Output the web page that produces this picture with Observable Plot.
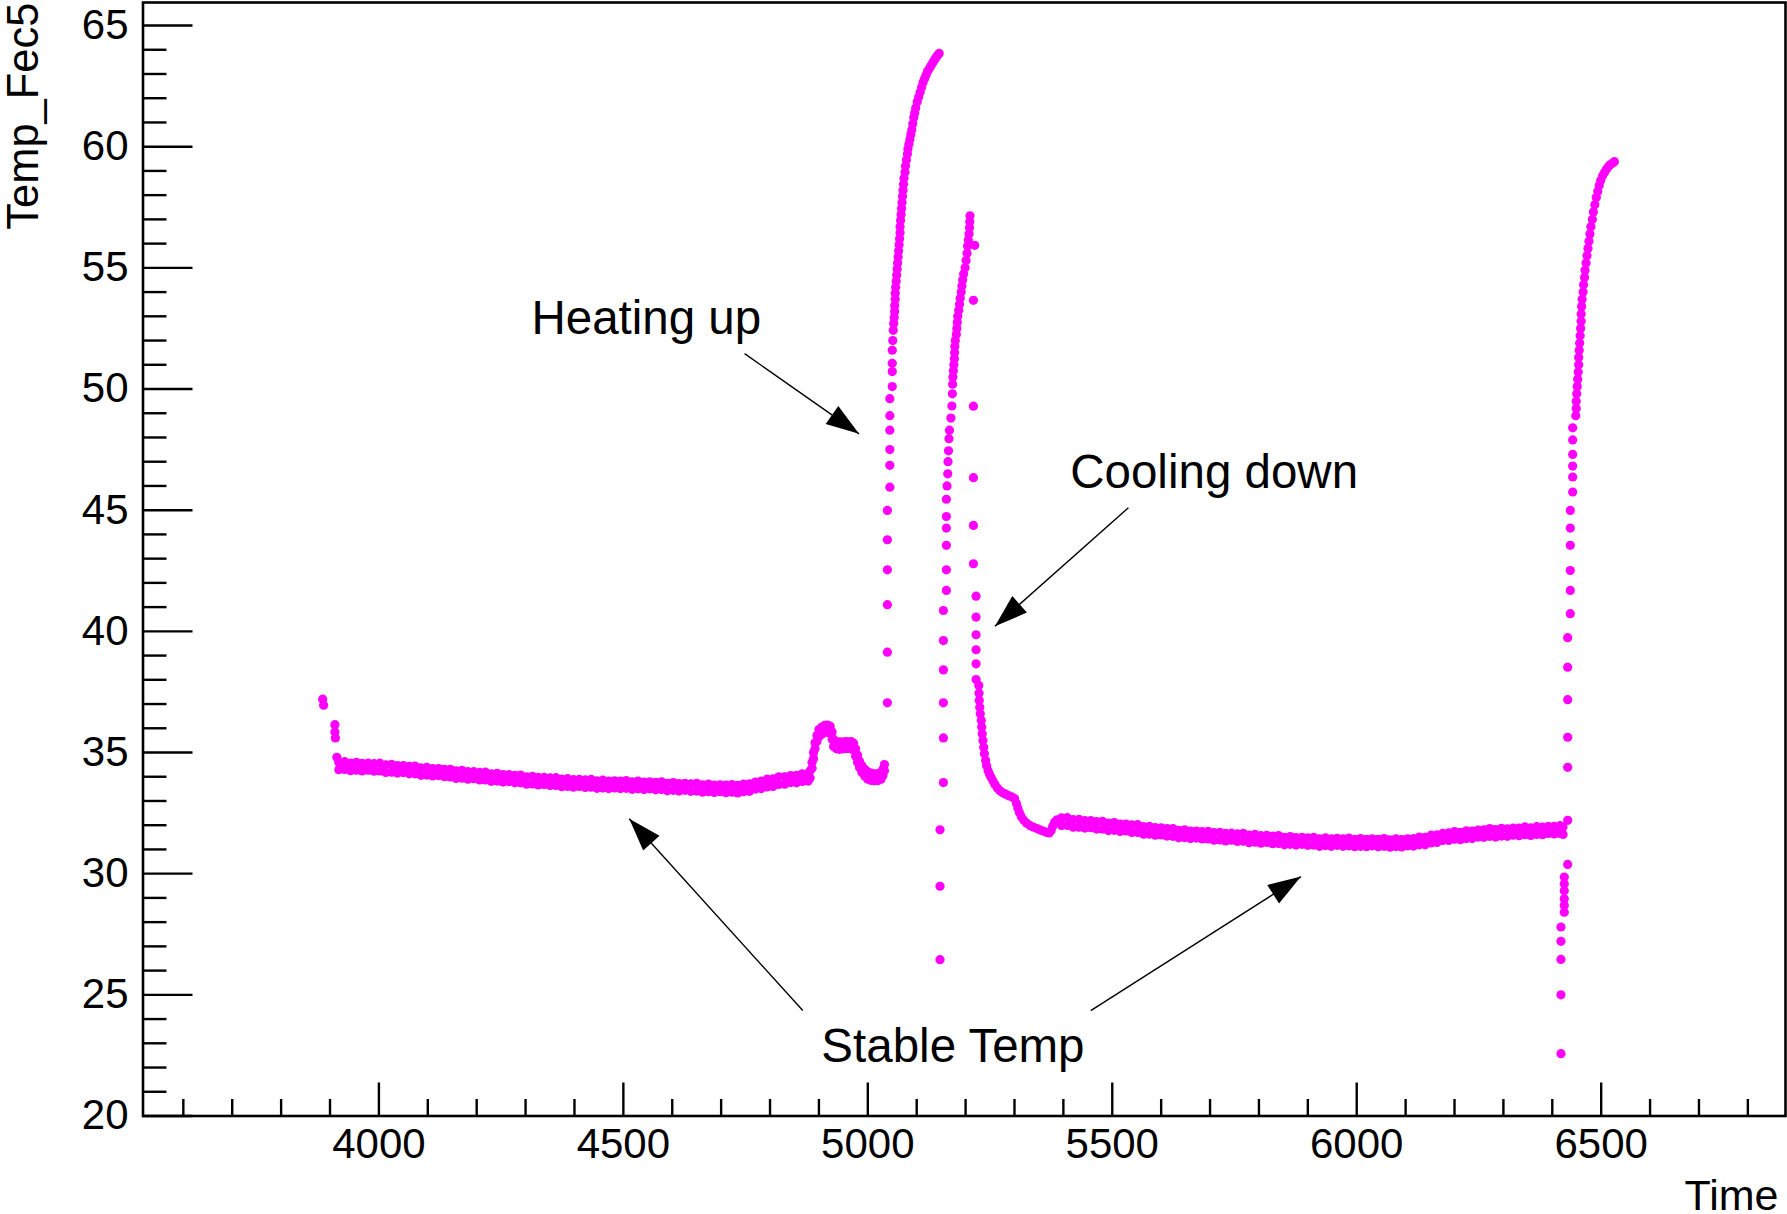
<!DOCTYPE html>
<html>
<head>
<meta charset="utf-8">
<script src="https://cdn.jsdelivr.net/npm/d3@7"></script>
<script src="https://cdn.jsdelivr.net/npm/@observablehq/plot@0.6"></script>
<style>
  html, body { margin: 0; padding: 0; background: #ffffff; }
  #chart svg { display: block; }
</style>
</head>
<body>
<div id="chart"></div>
<script>
// ---------------- DATA ----------------
// Time, Temp_Fec5 pairs  [t, v]
const startTransient = [[3885, 37.2], [3887, 36.95], [3910, 36.15], [3910, 35.85], [3911, 35.6], [3914, 34.8]];

// dense stable band before heating: [t, lower edge, upper edge]
const stableBefore = [
  [3918,34.29,34.60],[3930,34.30,34.62],[3942,34.25,34.56],[3954,34.27,34.59],[3966,34.24,34.55],[3978,34.27,34.56],
  [3990,34.23,34.54],[4002,34.24,34.56],[4014,34.18,34.49],[4026,34.19,34.51],[4038,34.15,34.46],[4050,34.17,34.46],
  [4062,34.12,34.43],[4074,34.12,34.44],[4086,34.06,34.37],[4098,34.07,34.39],[4110,34.03,34.34],[4122,34.05,34.34],
  [4134,34.00,34.31],[4146,33.99,34.31],[4158,33.93,34.24],[4170,33.94,34.26],[4182,33.90,34.21],[4194,33.92,34.21],
  [4206,33.87,34.18],[4218,33.87,34.19],[4230,33.81,34.12],[4242,33.82,34.14],[4254,33.78,34.09],[4266,33.80,34.09],
  [4278,33.75,34.06],[4290,33.75,34.07],[4302,33.69,34.00],[4314,33.70,34.02],[4326,33.66,33.97],[4338,33.68,33.97],
  [4350,33.64,33.95],[4362,33.64,33.96],[4374,33.59,33.90],[4386,33.60,33.92],[4398,33.57,33.88],[4410,33.60,33.89],
  [4422,33.56,33.87],[4434,33.57,33.89],[4446,33.52,33.83],[4458,33.54,33.86],[4470,33.51,33.82],[4482,33.54,33.83],
  [4494,33.51,33.82],[4506,33.52,33.84],[4518,33.48,33.79],[4530,33.50,33.82],[4542,33.47,33.78],[4554,33.50,33.79],
  [4566,33.46,33.77],[4578,33.47,33.79],[4590,33.42,33.73],[4602,33.44,33.76],[4614,33.41,33.72],[4626,33.44,33.73],
  [4638,33.40,33.71],[4650,33.41,33.73],[4662,33.36,33.67],[4674,33.38,33.70],[4686,33.35,33.66],[4698,33.38,33.67],
  [4710,33.34,33.65],[4722,33.36,33.68],[4734,33.33,33.64],[4746,33.38,33.70],[4758,33.40,33.71],[4770,33.49,33.78],
  [4782,33.51,33.82],[4794,33.58,33.90],[4806,33.60,33.91],[4818,33.68,34.00],[4830,33.69,34.00],[4842,33.76,34.05],
  [4854,33.75,34.06],[4866,33.80,34.12],[4878,33.82,34.13]
];

// small warm bump before the first heating: [t, lower, upper]
const warmBump = [
  [4882,33.95,34.25],[4886,34.35,34.60],[4889,34.75,35.00],[4892,35.15,35.40],[4896,35.45,35.70],[4900,35.65,35.95],
  [4906,35.75,36.05],[4912,35.83,36.12],[4918,35.85,36.13],[4923,35.80,36.08],[4927,35.55,35.85],[4930,35.25,35.55],
  [4936,35.15,35.42],[4942,35.13,35.44],[4948,35.15,35.43],[4954,35.16,35.45],[4960,35.17,35.44],[4966,35.15,35.45],
  [4971,35.10,35.38],[4975,34.85,35.15],[4979,34.60,34.90],[4983,34.38,34.65],[4988,34.18,34.45],[4994,34.02,34.30],
  [5000,33.90,34.20],[5007,33.85,34.15],[5014,33.83,34.12],[5021,33.84,34.13],[5027,33.90,34.18],[5031,34.05,34.30],
  [5034,34.25,34.50]
];

// first heating
const heatingRise1 = [
  [5040,37.05],[5040,39.14],[5040,41.10],[5040,42.54],[5040,43.78],[5040,44.99],[5045,45.95],[5045,46.85],[5045,47.50],
  [5045,48.30],[5045,48.90],[5045,49.60],[5050,50.10],[5050,50.72],[5050,51.06],[5050,51.60],[5051,52.00],[5052,52.42],
  [5053,52.70],[5054,52.95],[5055,53.20],[5055,53.45],[5056,53.70],[5056,53.95],[5057,54.20],[5058,54.45],[5059,54.70],
  [5060,54.95],[5061,55.20],[5062,55.45],[5063,55.70],[5064,55.95],[5065,56.20],[5066,56.45],[5066,56.70],[5067,56.95],
  [5068,57.20],[5069,57.45],[5070,57.70],[5071,57.95],[5072,58.20],[5073,58.45],[5074,58.70],[5076,58.95],[5077,59.20],
  [5079,59.45],[5081,59.70],[5082,59.90],[5084,60.10],[5086,60.30],[5088,60.50],[5090,60.70],[5092,60.95],[5094,61.20],
  [5096,61.40],[5098,61.60],[5101,61.85],[5104,62.05],[5107,62.25],[5110,62.45],[5113,62.65],[5116,62.80],[5119,62.95],
  [5122,63.10],[5125,63.20],[5128,63.30],[5131,63.40],[5134,63.50],[5137,63.60],[5140,63.70],[5143,63.78],[5146,63.85]
];

// second heating
const heatingRise2 = [
  [5147.7,26.45],[5147.7,29.48],[5147.7,31.81],[5154.6,33.76],[5154.6,35.60],[5154.6,37.05],[5154.6,38.41],[5154.6,39.62],
  [5154.6,40.86],[5160.7,41.69],[5160.7,42.54],[5160.7,43.55],[5160.7,44.26],[5160.7,44.74],[5160.7,45.45],[5162,46.00],
  [5163.5,46.50],[5164,47.00],[5165,47.45],[5166,47.95],[5167,48.30],[5170,48.80],[5172,49.30],[5173,49.80],[5173.5,50.20],
  [5174,50.50],[5175,50.75],[5176,51.00],[5177,51.25],[5177.5,51.50],[5178,51.75],[5179,52.00],[5181,52.25],[5182,52.50],
  [5183,52.75],[5184,53.00],[5186,53.25],[5187.5,53.50],[5189,53.75],[5191,54.00],[5192.5,54.25],[5194,54.50],[5196,54.75],
  [5199,55.00],[5201,55.30],[5203,55.60],[5204,55.90],[5205.5,56.15],[5207,56.40],[5208,56.65],[5208.5,56.90],[5209,57.15]
];

// cooling down after the second heating
const coolingFall = [
  [5218.7,55.93],[5216,53.66],[5216,49.29],[5216,46.34],[5216,44.37],[5216,42.79],[5221.4,41.45],[5221.4,40.59],
  [5221.4,39.86],[5221.4,39.24],[5221.4,38.66],[5221.4,38.01],[5227,37.77],[5227.5,37.45],[5228,37.15],[5229,36.87],
  [5230,36.60],[5232,36.32],[5233,36.05],[5234,35.77],[5235.5,35.50],[5237,35.22],[5238.5,34.95],[5241,34.67],
  [5243,34.45],[5246,34.25],[5249,34.10],[5252,33.98],[5256,33.82],[5260,33.68],[5265,33.54],[5270,33.42],[5276,33.34],
  [5282,33.28],[5288,33.22],[5294,33.17],[5300,33.10],[5304,32.90],[5307,32.70],[5310,32.52],[5314,32.35],[5319,32.20],
  [5325,32.08],[5332,31.98],[5339,31.92],[5346,31.86],[5353,31.80],[5360,31.75],[5366,31.70],[5371,31.68],[5375,31.78],
  [5378,31.95],[5382,32.12],[5387,32.22],[5392,32.20]
];

// dense stable band after cooling: [t, lower edge, upper edge]
const stableAfter = [
  [5396,31.99,32.30],[5408,31.99,32.31],[5420,31.92,32.23],[5432,31.92,32.24],[5444,31.88,32.19],[5456,31.90,32.19],
  [5468,31.84,32.15],[5480,31.84,32.16],[5492,31.78,32.09],[5504,31.79,32.11],[5516,31.74,32.05],[5528,31.76,32.05],
  [5540,31.70,32.01],[5552,31.70,32.02],[5564,31.63,31.94],[5576,31.63,31.95],[5588,31.59,31.90],[5600,31.60,31.89],
  [5612,31.55,31.86],[5624,31.54,31.86],[5636,31.48,31.79],[5648,31.49,31.81],[5660,31.45,31.76],[5672,31.47,31.76],
  [5684,31.43,31.74],[5696,31.43,31.75],[5708,31.38,31.69],[5720,31.39,31.71],[5732,31.35,31.66],[5744,31.38,31.67],
  [5756,31.33,31.64],[5768,31.34,31.66],[5780,31.28,31.59],[5792,31.30,31.62],[5804,31.26,31.57],[5816,31.29,31.58],
  [5828,31.24,31.55],[5840,31.25,31.57],[5852,31.19,31.50],[5864,31.21,31.53],[5876,31.18,31.49],[5888,31.21,31.50],
  [5900,31.17,31.48],[5912,31.18,31.50],[5924,31.13,31.44],[5936,31.16,31.48],[5948,31.13,31.44],[5960,31.17,31.46],
  [5972,31.13,31.44],[5984,31.15,31.47],[5996,31.11,31.42],[6008,31.13,31.45],[6020,31.11,31.42],[6032,31.15,31.44],
  [6044,31.11,31.42],[6056,31.13,31.45],[6068,31.09,31.40],[6080,31.12,31.44],[6092,31.10,31.41],[6104,31.15,31.44],
  [6116,31.14,31.45],[6128,31.19,31.51],[6140,31.19,31.50],[6152,31.27,31.59],[6164,31.29,31.60],[6176,31.37,31.66],
  [6188,31.37,31.68],[6200,31.42,31.74],[6212,31.40,31.71],[6224,31.45,31.77],[6236,31.45,31.76],[6248,31.51,31.80],
  [6260,31.50,31.81],[6272,31.54,31.86],[6284,31.51,31.82],[6296,31.55,31.87],[6308,31.54,31.85],[6320,31.59,31.88],
  [6332,31.57,31.88],[6344,31.61,31.93],[6356,31.58,31.89],[6368,31.62,31.94],[6380,31.61,31.92],[6392,31.66,31.95],
  [6404,31.64,31.95],[6416,31.66,31.98],[6422,31.62,31.93]
];

// third heating
const heatingRise3 = [
  [6417.7,22.57],[6417.7,25.00],[6417.7,26.46],[6417.7,27.21],[6417.7,27.80],[6424.5,28.41],[6424.5,28.69],[6424.5,28.96],
  [6424.5,29.30],[6424.5,29.58],[6424.5,29.86],[6431.5,30.38],[6431.5,32.20],[6431.5,34.39],[6431.5,35.63],[6431.5,37.18],
  [6431.5,38.52],[6431.5,39.74],[6436.8,40.73],[6436.8,41.69],[6436.8,42.51],[6436.8,43.55],[6436.8,44.26],[6436.8,44.99],
  [6441.7,45.75],[6441.7,46.37],[6441.7,46.82],[6441.7,47.30],[6441.7,47.90],[6441.7,48.40],[6448,48.90],[6449,49.20],
  [6449,49.50],[6450,49.80],[6451,50.10],[6452,50.40],[6453,50.70],[6454,51.00],[6454,51.30],[6455,51.60],[6456,51.90],
  [6457,52.20],[6458,52.50],[6459,52.80],[6459,53.10],[6460,53.40],[6461,53.70],[6463,54.00],[6464,54.30],[6466,54.60],
  [6467,54.90],[6469,55.20],[6471,55.50],[6473,55.80],[6475,56.10],[6477,56.40],[6479,56.70],[6482,57.00],[6484,57.30],
  [6487,57.60],[6490,57.90],[6493,58.15],[6496,58.40],[6499,58.60],[6503,58.80],[6507,58.95],[6511,59.08],[6515,59.18],
  [6519,59.26],[6523,59.32],[6527,59.38]
];

// axes
const xMajorTicks = [4000, 4500, 5000, 5500, 6000, 6500];
const xMinorTicks = [3600, 3700, 3800, 3900, 4100, 4200, 4300, 4400, 4600, 4700, 4800, 4900, 5100, 5200, 5300, 5400,
                     5600, 5700, 5800, 5900, 6100, 6200, 6300, 6400, 6600, 6700, 6800];
const yMajorTicks = [20, 25, 30, 35, 40, 45, 50, 55, 60, 65];
const yMinorTicks = [21, 22, 23, 24, 26, 27, 28, 29, 31, 32, 33, 34, 36, 37, 38, 39, 41, 42, 43, 44,
                     46, 47, 48, 49, 51, 52, 53, 54, 56, 57, 58, 59, 61, 62, 63, 64];
const xTitle = "Time";
const yTitle = "Temp_Fec5";

// annotations (data coordinates)
const labels = [
  {t: 4312, v: 52.28, text: "Heating up"},
  {t: 5414, v: 45.93, text: "Cooling down"},
  {t: 4905, v: 22.22, text: "Stable Temp"}
];
const arrows = [
  {x1: 4748, y1: 51.46, x2: 4982, y2: 48.15},
  {x1: 5533, y1: 45.10, x2: 5260, y2: 40.21},
  {x1: 4867, y1: 24.35, x2: 4512, y2: 32.27},
  {x1: 5456, y1: 24.35, x2: 5886, y2: 29.88}
];

// ---------------- CHART ----------------
const W = 1787, H = 1214;
const M = {left: 142.5, right: 2, top: 2, bottom: 98.5};
const xDomain = [3517.5, 6877];
const yDomain = [20, 65.95];
const frameW = W - M.left - M.right;
const frameH = H - M.top - M.bottom;
const FONT = '"Liberation Sans", Arial, Helvetica, sans-serif';

const points = [];
for (const [t, v] of startTransient) points.push({t, v});
for (const [t, lo, hi] of stableBefore) points.push({t, v: lo}, {t, v: hi});
for (const [t, lo, hi] of warmBump) points.push({t, v: lo}, {t, v: hi});
for (const [t, v] of heatingRise1) points.push({t, v});
for (const [t, v] of heatingRise2) points.push({t, v});
for (const [t, v] of coolingFall) points.push({t, v});
for (const [t, lo, hi] of stableAfter) points.push({t, v: lo}, {t, v: hi});
for (const [t, v] of heatingRise3) points.push({t, v});

// screen-space helper scales (same domain/range as Plot) used only for arrowhead orientation
const sx = d3.scaleLinear(xDomain, [M.left, W - M.right]);
const sy = d3.scaleLinear(yDomain, [H - M.bottom, M.top]);
function headSymbol(a) {
  const phi = Math.atan2(sy(a.y2) - sy(a.y1), sx(a.x2) - sx(a.x1));
  const L = 33, hw = 11;
  const c = Math.cos(phi), s = Math.sin(phi);
  return {
    draw(ctx) {
      const bx = -L * c, by = -L * s;
      ctx.moveTo(0, 0);
      ctx.lineTo(bx - hw * s, by + hw * c);
      ctx.lineTo(bx + hw * s, by - hw * c);
      ctx.closePath();
    }
  };
}

const marks = [
  Plot.frame({stroke: "black", strokeWidth: 2.6}),
  Plot.dot(points, {x: "t", y: "v", r: 4.6, fill: "#ff00ff", stroke: "none"}),
  // ticks (inward, ROOT style)
  Plot.tickX(xMajorTicks, {x: d => d, insetTop: frameH - 33, stroke: "black", strokeWidth: 2.4}),
  Plot.tickX(xMinorTicks, {x: d => d, insetTop: frameH - 16.5, stroke: "black", strokeWidth: 2.4}),
  Plot.tickY(yMajorTicks, {y: d => d, insetRight: frameW - 50, stroke: "black", strokeWidth: 2.4}),
  Plot.tickY(yMinorTicks, {y: d => d, insetRight: frameW - 24, stroke: "black", strokeWidth: 2.4}),
  // tick labels
  Plot.text(xMajorTicks, {x: d => d, text: d => String(d), frameAnchor: "bottom", lineAnchor: "top", dy: 12.5, fontSize: 42, fill: "black"}),
  Plot.text(yMajorTicks, {y: d => d, text: d => String(d), frameAnchor: "left", textAnchor: "end", dx: -14.5, fontSize: 42, fill: "black"}),
  // axis titles
  Plot.text([xTitle], {text: d => d, frameAnchor: "bottom-right", textAnchor: "end", lineAnchor: "bottom", dx: -7, dy: 93.5, fontSize: 43, fill: "black"}),
  Plot.text([yTitle], {text: d => d, frameAnchor: "top-left", textAnchor: "end", lineAnchor: "bottom", rotate: -90, dx: -105.5, dy: 0, fontSize: 43.5, fill: "black"}),
  // annotations
  Plot.link(arrows, {x1: "x1", y1: "y1", x2: "x2", y2: "y2", stroke: "black", strokeWidth: 1.4}),
  ...arrows.map(a => Plot.dot([a], {x: "x2", y: "y2", r: 10, symbol: headSymbol(a), fill: "black", stroke: "none"})),
  Plot.text(labels, {x: "t", y: "v", text: "text", textAnchor: "start", lineAnchor: "bottom", fontSize: 47.5, fill: "black"})
];

const chart = Plot.plot({
  width: W, height: H,
  marginLeft: M.left, marginRight: M.right, marginTop: M.top, marginBottom: M.bottom,
  x: {domain: xDomain, axis: null},
  y: {domain: yDomain, axis: null},
  style: {fontFamily: FONT, background: "white", color: "black", overflow: "visible"},
  marks
});
document.getElementById("chart").appendChild(chart);
</script>
</body>
</html>
